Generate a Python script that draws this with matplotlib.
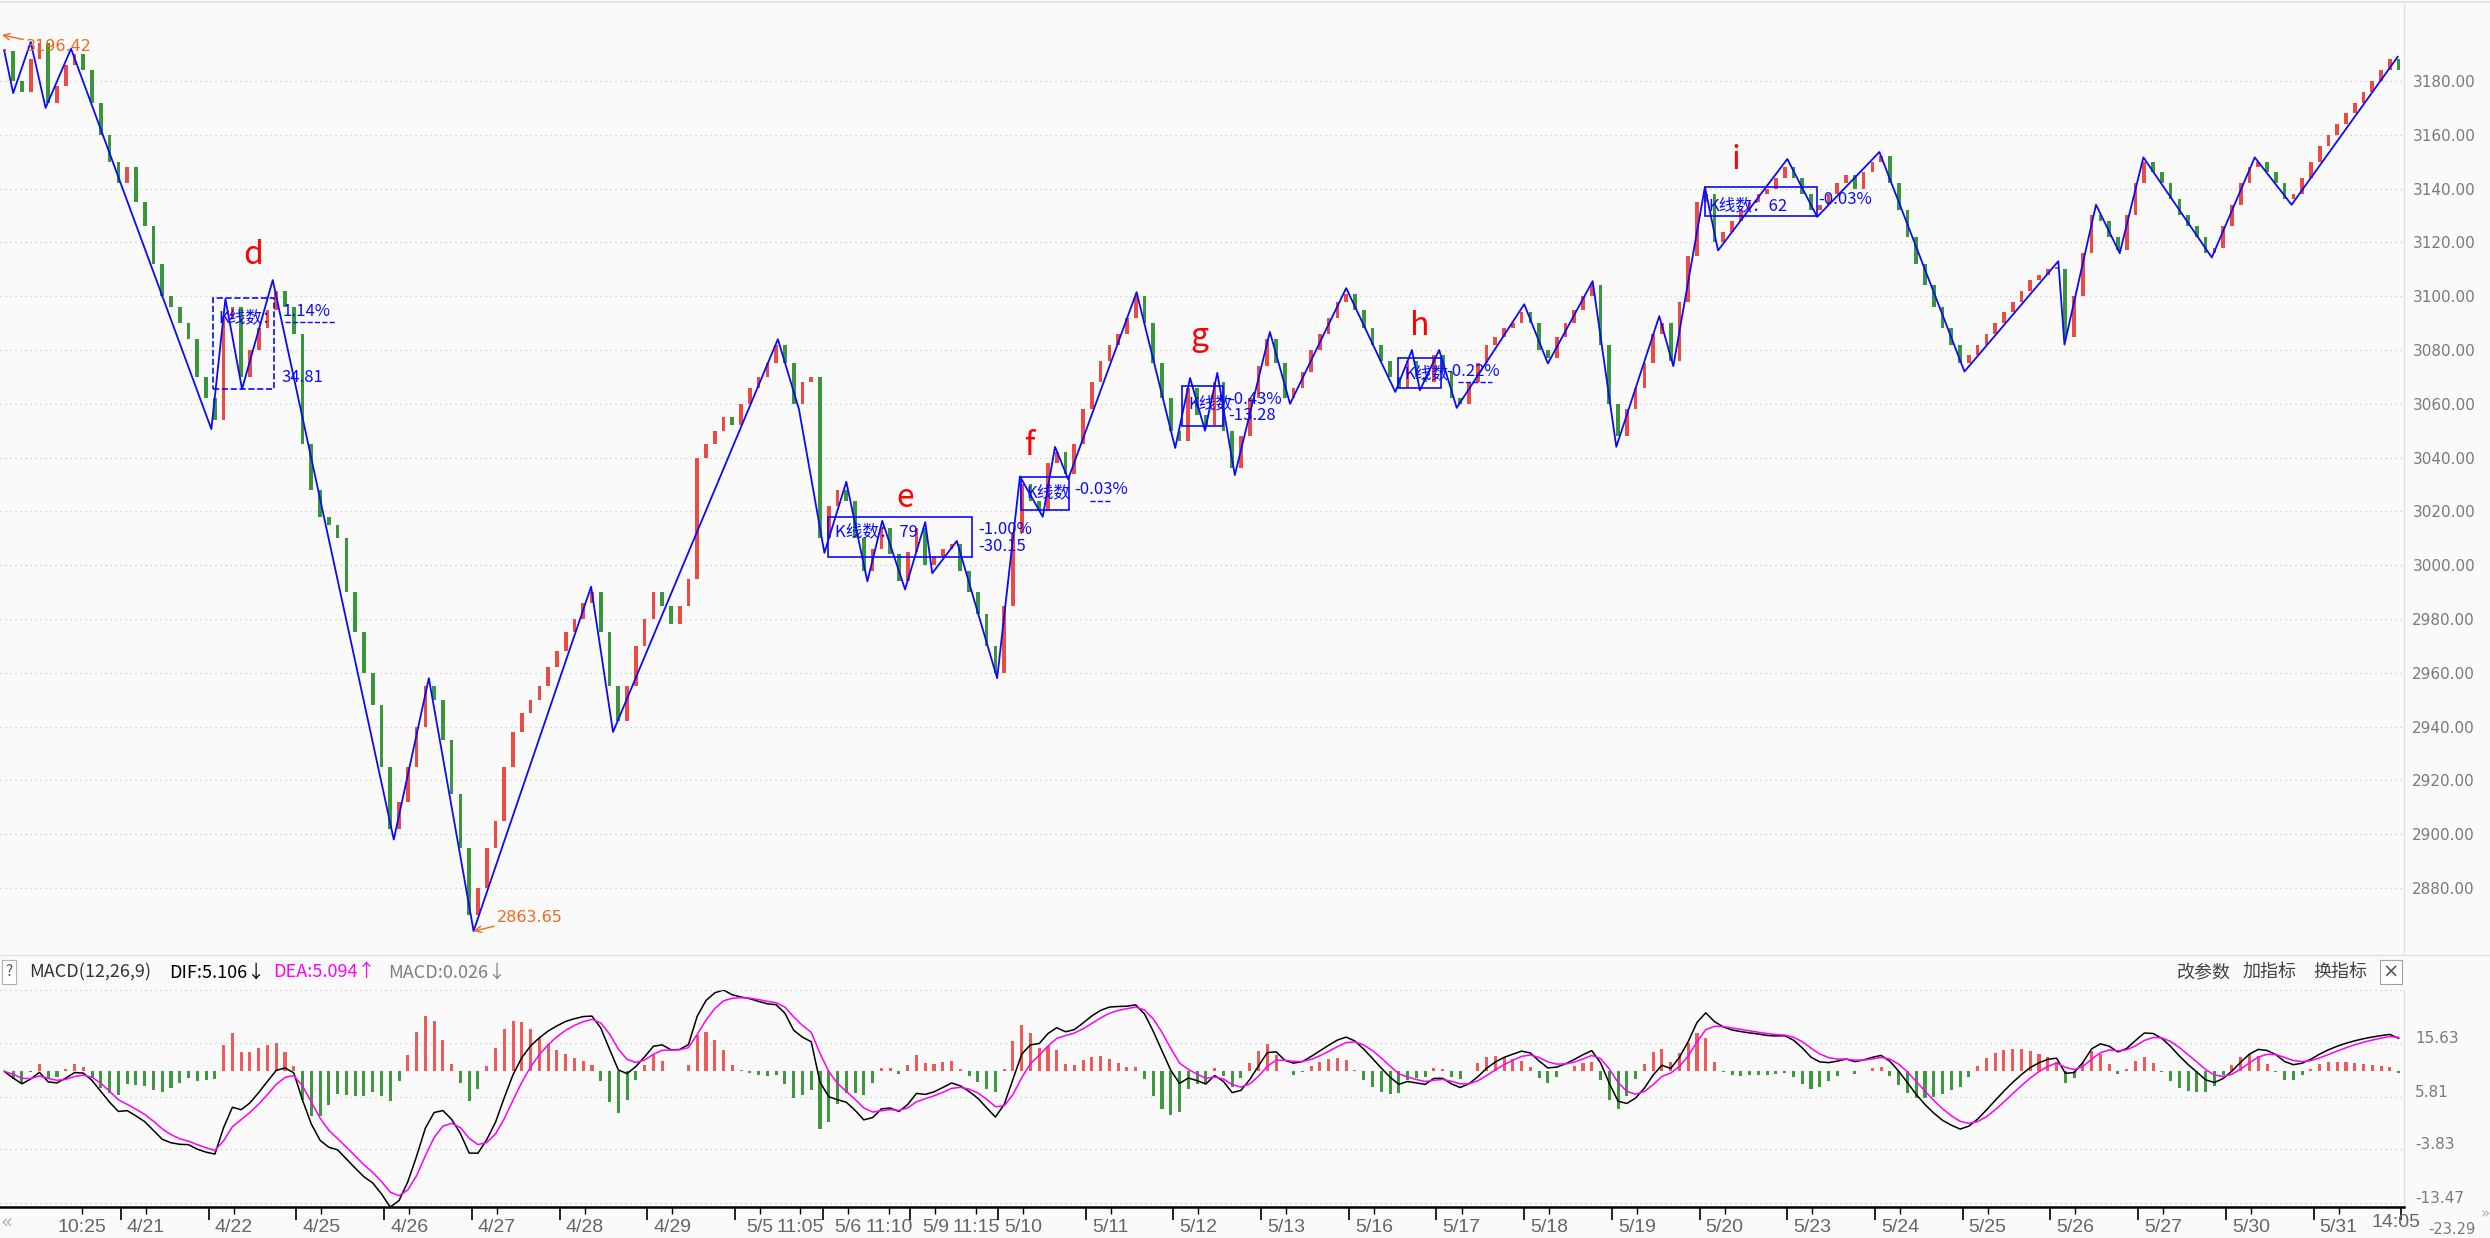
import numpy as np
import pandas as pd
import matplotlib
matplotlib.use("Agg")
import matplotlib.pyplot as plt
import matplotlib.transforms as mtransforms
from matplotlib.patches import Rectangle

plt.rcParams['font.family'] = ['Noto Sans CJK SC', 'DejaVu Sans']

# ---- data ----
# close of each bar (about 10 bars per trading day)
closes = [
    3191, 3180, 3176, 3188, 3194, 3172, 3178, 3186, 3190, 3184,
    3172, 3160, 3150, 3142, 3148, 3135, 3126, 3112, 3100, 3096,
    3090, 3084, 3070, 3062, 3054, 3092, 3096, 3070, 3080, 3088,
    3095, 3102, 3096, 3086, 3045, 3028, 3018, 3015, 3010, 2990,
    2975, 2960, 2948, 2925, 2902, 2912, 2925, 2940, 2955, 2950,
    2935, 2915, 2895, 2870, 2880, 2895, 2905, 2925, 2938, 2945,
    2950, 2955, 2962, 2968, 2975, 2980, 2986, 2990, 2975, 2955,
    2942, 2955, 2970, 2980, 2990, 2985, 2978, 2985, 2995, 3040,
    3045, 3050, 3055, 3052, 3060, 3066, 3070, 3075, 3082, 3075,
    3060, 3068, 3070, 3010, 3022, 3028, 3024, 3010, 2998, 3006,
    3014, 3004, 2994, 3005, 3014, 3000, 3003, 3006, 3008, 2998,
    2990, 2982, 2970, 2960, 2985, 3012, 3030, 3024, 3020, 3038,
    3042, 3034, 3045, 3058, 3068, 3076, 3082, 3086, 3092, 3100,
    3090, 3075, 3062, 3050, 3046, 3066, 3056, 3052, 3068, 3050,
    3036, 3048, 3062, 3074, 3084, 3075, 3062, 3066, 3072, 3080,
    3086, 3092, 3098, 3101, 3095, 3088, 3082, 3076, 3070, 3066,
    3076, 3070, 3068, 3078, 3072, 3062, 3060, 3068, 3075, 3082,
    3085, 3088, 3090, 3094, 3090, 3080, 3077, 3085, 3090, 3095,
    3100, 3104, 3082, 3060, 3048, 3058, 3066, 3075, 3086, 3090,
    3076, 3098, 3115, 3135, 3138, 3120, 3124, 3128, 3132, 3135,
    3138, 3140, 3144, 3148, 3144, 3138, 3132, 3134, 3138, 3142,
    3145, 3140, 3146, 3150, 3152, 3142, 3132, 3122, 3112, 3104,
    3096, 3088, 3082, 3075, 3078, 3082, 3086, 3090, 3094, 3098,
    3102, 3106, 3108, 3110, 3110, 3085, 3100, 3116, 3130, 3128,
    3122, 3117, 3130, 3142, 3150, 3146, 3142, 3136, 3130, 3126,
    3122, 3116, 3118, 3126, 3134, 3142, 3148, 3150, 3146, 3142,
    3136, 3138, 3144, 3150, 3156, 3160, 3164, 3168, 3172, 3176,
    3180, 3184, 3188, 3184,
]

# zigzag pivots (bar position, price)
zz_x = [0, 1.0, 3.0, 4.7, 7.6, 23.6, 25.2, 27.1, 30.6, 44.4, 48.4, 53.5,
        66.9, 69.4, 88.2, 90.6, 93.5, 96.0, 98.4, 100.1, 102.7, 105.0,
        105.8, 108.6, 113.2, 115.8, 118.4, 119.8, 121.3, 129.1, 133.5,
        135.2, 136.9, 138.3, 140.3, 144.3, 146.6, 153.0, 158.6, 160.5,
        161.4, 163.6, 165.6, 173.3, 176.0, 181.1, 183.8, 188.7, 190.3,
        193.9, 195.4, 203.3, 206.7, 213.8, 223.5, 234.2, 234.9, 238.5,
        241.2, 243.9, 251.7, 256.6, 260.8, 272.9]
zz_y = [3191, 3175.5, 3194.5, 3170, 3192, 3050.6, 3099, 3065.5, 3106, 2898,
        2958, 2864, 2992, 2938, 3084, 3058, 3004.6, 3031, 2994, 3016.5,
        2991, 3016, 2997, 3009, 2958, 3033, 3018, 3044, 3032, 3101.5,
        3043.6, 3069.6, 3050, 3071.5, 3033.5, 3086.7, 3060, 3103, 3064.4,
        3080, 3065, 3080, 3058.5, 3097, 3075, 3105.6, 3044, 3092.6, 3074,
        3140.6, 3117, 3151, 3129.5, 3153.6, 3072, 3113, 3082, 3134, 3116,
        3151.6, 3114.4, 3151.6, 3134, 3189]

# wave boxes: letter, bar range, price range
box_names = ['d', 'e', 'f', 'g', 'h', 'i']
box_x0 = [23.8, 93.9, 115.9, 134.3, 158.9, 193.9]
box_x1 = [30.7, 110.3, 121.4, 139.0, 163.8, 206.7]
box_lo = [3065.5, 3003.0, 3020.5, 3051.7, 3065.9, 3129.8]
box_hi = [3099.3, 3017.9, 3032.8, 3066.6, 3077.0, 3140.6]

day_labels = ['4/21', '4/22', '4/25', '4/26', '4/27', '4/28', '4/29', '5/5',
              '5/6', '5/9', '5/10', '5/11', '5/12', '5/13', '5/16', '5/17',
              '5/18', '5/19', '5/20', '5/23', '5/24', '5/25', '5/26', '5/27',
              '5/30', '5/31']
price_ticks = [2880, 2900, 2920, 2940, 2960, 2980, 3000, 3020, 3040, 3060,
               3080, 3100, 3120, 3140, 3160, 3180]
macd_labels = ['15.63', '5.81', '-3.83', '-13.47', '-23.29']

# ---- layout helpers (full size pixels -> data) ----
W, H = 2490, 1238
PXB = 8.77


def bx(px):
    return px / PXB - 0.5


def py(px):
    return 3180 - (px - 81) * 300 / 807


RED = '#ee4a44'
GREEN = '#3a963a'
BLUE = '#0a0aff'
ORANGE = '#f06a1e'
BG = '#fafafa'
XFONT = 'Liberation Sans'

fig = plt.figure(figsize=(W / 100, H / 100), dpi=100)
fig.patch.set_facecolor(BG)

ax = fig.add_axes([0, 1 - 953 / H, 2404 / W, 949 / H])
ax.set_facecolor(BG)
ax.set_xlim(-0.5, bx(2404))
ax.set_ylim(py(953), py(4))

x = np.arange(len(closes))
c = np.array(closes, dtype=float)
o = np.r_[c[0], c[:-1]]
body = c - o
body = np.where(np.abs(body) < 0.8, 0.8, body)
cols = np.where(c >= o, RED, GREEN)
ax.bar(x, body, bottom=o, width=0.42, color=cols, linewidth=0, zorder=2)

ax.plot(zz_x, zz_y, color=BLUE, lw=1.3, zorder=3)

for v in price_ticks:
    ax.axhline(v, color='#c8c8c8', lw=0.9, ls=(0, (1, 3)), zorder=0)
ax.yaxis.tick_right()
ax.set_yticks(price_ticks)
ax.set_yticklabels([f'{v:.2f}' for v in price_ticks], family='DejaVu Sans',
                   fontsize=11, color='#7a7a7a')
ax.tick_params(axis='y', length=0, pad=6)
ax.set_xticks([])
for s in ['left', 'top', 'bottom']:
    ax.spines[s].set_visible(False)
ax.spines['right'].set_color('#dcdcdc')

# wave boxes and their notes
for k, name in enumerate(box_names):
    ls = '--' if name == 'd' else '-'
    ax.add_patch(Rectangle((box_x0[k], box_lo[k]), box_x1[k] - box_x0[k],
                           box_hi[k] - box_lo[k], fill=False, ec=BLUE,
                           lw=1.2, ls=ls, zorder=4))

letter_pos = {'d': (253, 255), 'e': (905, 498), 'f': (1030, 446),
              'g': (1199, 337), 'h': (1420, 326), 'i': (1736, 160)}
for name, (px, pyy) in letter_pos.items():
    ax.text(bx(px), py(pyy), name, color='#ff0000', fontsize=23,
            ha='center', va='center', zorder=5)

notes = [
    (218, 318, 'K线数：'), (282, 312, '1.14%'), (281, 377, '34.81'),
    (835, 532, 'K线数： 79'), (978, 530, '-1.00%'), (978, 547, '-30.15'),
    (1026, 493, 'K线数'), (1074, 490, '-0.03%'),
    (1188, 404, 'K线数'), (1228, 400, '-0.43%'), (1228, 416, '-13.28'),
    (1404, 374, 'K线数'), (1446, 372, '-0.22%'),
    (1708, 206, 'K线数：62'), (1818, 200, '-0.03%'),
]
for px, pyy, t in notes:
    ax.text(bx(px), py(pyy), t, color=BLUE, fontsize=12, ha='left',
            va='center', zorder=5)
for x0, x1, yy in [(285, 335, 322), (1090, 1112, 501), (1458, 1492, 382)]:
    ax.plot([bx(x0), bx(x1)], [py(yy)] * 2, color=BLUE, lw=1, ls='--', zorder=5)

ax.annotate('3196.42', xy=(bx(2), py(35)), xytext=(bx(26), py(47)),
            color=ORANGE, fontsize=11.5, ha='left', va='center',
            family='DejaVu Sans',
            arrowprops=dict(arrowstyle='->', color=ORANGE, lw=1,
                            shrinkA=0, shrinkB=0))
ax.annotate('2863.65', xy=(zz_x[11], zz_y[11]), xytext=(bx(497), py(918)),
            color=ORANGE, fontsize=11.5, ha='left', va='center',
            family='DejaVu Sans',
            arrowprops=dict(arrowstyle='->', color=ORANGE, lw=1,
                            shrinkA=0, shrinkB=0))

# ---- MACD panel ----
# the source chart has ~24 bars a day, these closes ~10, so the
# 12/26/9 spans are scaled to keep the same time window
k_bar = 10 / 24
s = pd.Series(c)
dif = (s.ewm(span=12 * k_bar, adjust=False).mean()
       - s.ewm(span=26 * k_bar, adjust=False).mean())
dea = dif.ewm(span=9 * k_bar, adjust=False).mean()
hist = 2 * (dif - dea)

axm = fig.add_axes([0, 1 - 1207 / H, 2404 / W, 217 / H])
axm.set_facecolor(BG)
axm.set_xlim(ax.get_xlim())
axm.bar(x, hist, width=0.35, color=np.where(hist >= 0, '#ef5b5b', '#3f973f'),
        linewidth=0, zorder=2)
axm.plot(x, dif, color='black', lw=1.1, zorder=3)
axm.plot(x, dea, color='#ff00ff', lw=1.1, zorder=3)
lo = min(dif.min(), dea.min(), hist.min())
hi = max(dif.max(), dea.max(), hist.max())
axm.set_ylim(lo, hi)

grid_px = [1043, 1097, 1149, 1203]
grid_vals = [lo + (1207 - g) / 217 * (hi - lo) for g in grid_px]
for g in grid_vals:
    axm.axhline(g, color='#c8c8c8', lw=0.9, ls=(0, (1, 3)), zorder=0)
axm.yaxis.tick_right()
axm.set_yticks(grid_vals)
axm.set_yticklabels(macd_labels[:4], family='DejaVu Sans', fontsize=11,
                    color='#7a7a7a')
axm.tick_params(axis='y', length=0, pad=8)
off = mtransforms.ScaledTranslation(0, 4 / 72, fig.dpi_scale_trans)
for lab in axm.get_yticklabels():
    lab.set_transform(lab.get_transform() + off)
fig.text(2428 / W, 1 - 1229 / H, macd_labels[4], family='DejaVu Sans',
         fontsize=10.5, color='#7a7a7a', va='center')

# x axis: dates at the start of each day, a few time marks
day_pos = [16.15 + 10 * k for k in range(len(day_labels))]
time_labels = ['10:25', '11:05', '11:10', '11:15']
time_pos = [bx(82), bx(800), bx(889), bx(976)]
ticks = day_pos + time_pos
labels = day_labels + time_labels
axm.set_xticks(ticks)
axm.set_xticklabels(labels, family=XFONT, fontsize=14, color='#666666')
axm.set_xticks([bx(121) + 10 * k for k in range(27)], minor=True)
axm.tick_params(axis='x', which='major', length=5, width=1, color='black', pad=4)
axm.tick_params(axis='x', which='minor', length=9, width=1.2, color='black')
axm.text(bx(2396), -0.03, '14:05', transform=axm.get_xaxis_transform(),
         family=XFONT, fontsize=14, color='#666666', ha='center', va='top',
         clip_on=False)
for sname in ['left', 'top']:
    axm.spines[sname].set_visible(False)
axm.spines['right'].set_color('#dcdcdc')
axm.spines['bottom'].set_linewidth(1.8)

# header of MACD panel
hy = 1 - 972 / H
fig.add_artist(plt.Line2D([0, 1], [1 - 955 / H] * 2, color='#e2e2e2', lw=1))
fig.add_artist(plt.Line2D([0, 2404 / W], [1 - 990 / H] * 2, color='#c8c8c8',
                          lw=0.9, ls=(0, (1, 3))))
fig.text(9 / W, hy, '?', fontsize=11, color='#555555', ha='center', va='center',
         bbox=dict(boxstyle='square,pad=0.25', fc='white', ec='#b0b0b0', lw=0.8))
fig.text(29 / W, hy, 'MACD(12,26,9)', fontsize=13, color='#333333', va='center')
fig.text(169 / W, hy, 'DIF:5.106↓', fontsize=13, color='black', va='center')
fig.text(273 / W, hy, 'DEA:5.094↑', fontsize=13, color='#ff00ff', va='center')
fig.text(388 / W, hy, 'MACD:0.026↓', fontsize=13, color='#808080', va='center')
fig.text(2177 / W, hy, '改参数', fontsize=13, color='#444444', va='center')
fig.text(2243 / W, hy, '加指标', fontsize=13, color='#444444', va='center')
fig.text(2313 / W, hy, '换指标', fontsize=13, color='#444444', va='center')
fig.text(2391 / W, hy, '×', fontsize=14, color='#555555', ha='center', va='center',
         family='DejaVu Sans',
         bbox=dict(boxstyle='square,pad=0.15', fc='white', ec='#a0a0a0', lw=0.8))
fig.text(7 / W, 1 - 1222 / H, '«', fontsize=14, color='#b0b0b0', ha='center',
         va='center', family='DejaVu Sans')
fig.text(2485 / W, 1 - 1214 / H, '»', fontsize=11, color='#b0b0b0', ha='center',
         va='center', family='DejaVu Sans')
fig.add_artist(plt.Line2D([0, 1], [1 - 2 / H] * 2, color='#e6e6e6', lw=1.5))

fig.savefig('out.png', dpi=100, facecolor=BG)
